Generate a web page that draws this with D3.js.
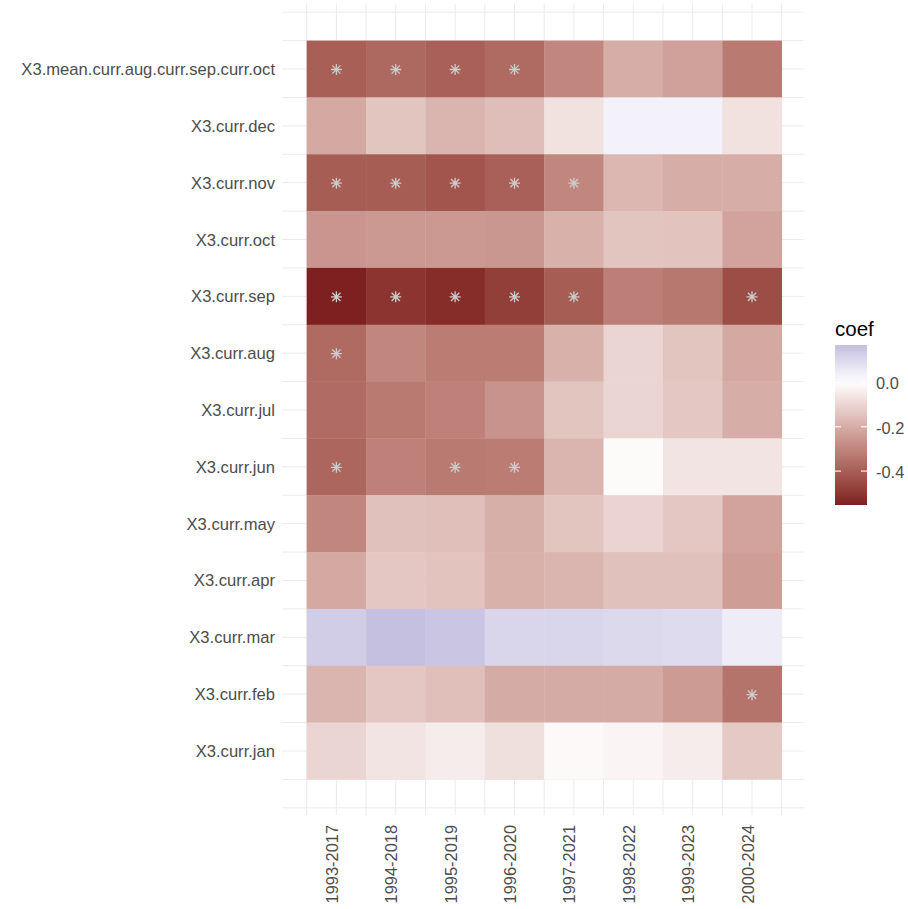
<!DOCTYPE html>
<html>
<head>
<meta charset="utf-8">
<script src="https://cdn.jsdelivr.net/npm/d3@7"></script>
<style>
  html, body { margin: 0; padding: 0; background: #ffffff; }
  svg { display: block; font-family: "Liberation Sans", Arial, sans-serif; }
</style>
</head>
<body>
<svg id="chart" width="908" height="909"></svg>
<script>
// ---------------- data ----------------
const periods = ["1993-2017","1994-2018","1995-2019","1996-2020","1997-2021","1998-2022","1999-2023","2000-2024"];
const predictors = ["X3.mean.curr.aug.curr.sep.curr.oct","X3.curr.dec","X3.curr.nov","X3.curr.oct","X3.curr.sep","X3.curr.aug","X3.curr.jul","X3.curr.jun","X3.curr.may","X3.curr.apr","X3.curr.mar","X3.curr.feb","X3.curr.jan"];

const coefMeanAugSepOct = [-0.400,-0.375,-0.395,-0.370,-0.295,-0.200,-0.230,-0.330];
const coefDec = [-0.210,-0.140,-0.180,-0.160,-0.070, 0.035, 0.035,-0.070];
const coefNov = [-0.405,-0.405,-0.425,-0.395,-0.295,-0.175,-0.200,-0.200];
const coefOct = [-0.260,-0.250,-0.250,-0.255,-0.190,-0.140,-0.145,-0.225];
const coefSep = [-0.553,-0.505,-0.525,-0.480,-0.405,-0.315,-0.335,-0.445];
const coefAug = [-0.370,-0.295,-0.325,-0.325,-0.190,-0.100,-0.140,-0.210];
const coefJul = [-0.365,-0.330,-0.310,-0.265,-0.140,-0.100,-0.135,-0.200];
const coefJun = [-0.380,-0.310,-0.330,-0.325,-0.180,-0.010,-0.065,-0.065];
const coefMay = [-0.295,-0.150,-0.155,-0.195,-0.140,-0.105,-0.135,-0.225];
const coefApr = [-0.210,-0.135,-0.145,-0.190,-0.180,-0.150,-0.150,-0.240];
const coefMar = [ 0.130, 0.169, 0.153, 0.110, 0.110, 0.100, 0.094, 0.050];
const coefFeb = [-0.180,-0.135,-0.155,-0.205,-0.205,-0.205,-0.245,-0.345];
const coefJan = [-0.100,-0.065,-0.045,-0.075,-0.015,-0.025,-0.045,-0.130];

const sigMeanAugSepOct = [1,1,1,1,0,0,0,0];
const sigDec = [0,0,0,0,0,0,0,0];
const sigNov = [1,1,1,1,1,0,0,0];
const sigOct = [0,0,0,0,0,0,0,0];
const sigSep = [1,1,1,1,1,0,0,1];
const sigAug = [1,0,0,0,0,0,0,0];
const sigJul = [0,0,0,0,0,0,0,0];
const sigJun = [1,0,1,1,0,0,0,0];
const sigMay = [0,0,0,0,0,0,0,0];
const sigApr = [0,0,0,0,0,0,0,0];
const sigMar = [0,0,0,0,0,0,0,0];
const sigFeb = [0,0,0,0,0,0,0,1];
const sigJan = [0,0,0,0,0,0,0,0];

const legendTicks = [0.0, -0.2, -0.4];
const legendTickLabels = ["0.0", "-0.2", "-0.4"];
const coefLimits = [-0.553, 0.169];

const coefRows = [coefMeanAugSepOct, coefDec, coefNov, coefOct, coefSep, coefAug, coefJul, coefJun, coefMay, coefApr, coefMar, coefFeb, coefJan];
const sigRows = [sigMeanAugSepOct, sigDec, sigNov, sigOct, sigSep, sigAug, sigJul, sigJun, sigMay, sigApr, sigMar, sigFeb, sigJan];

const cells = [];
predictors.forEach((p, i) => periods.forEach((per, j) => {
  cells.push({ predictor: p, period: per, coef: coefRows[i][j], sig: sigRows[i][j] });
}));

// ---------------- layout ----------------
const svg = d3.select("#chart");
const panel = { left: 282, right: 803.5, top: 3.5, bottom: 815 };

const x = d3.scaleBand().domain(periods).range([306.7, 781.7]).padding(0);
const y = d3.scaleBand().domain(predictors).range([40.6, 779.4]).padding(0);

const color = d3.scaleLinear()
  .domain([coefLimits[0], 0, coefLimits[1]])
  .range(["#7f2020", "#ffffff", "#c5bfe0"])
  .interpolate(d3.interpolateLab)
  .clamp(true);

const grid = svg.append("g").attr("stroke", "#ebebeb").attr("stroke-width", 1).attr("fill", "none");

// horizontal grid: row centres and row boundaries (plus half-row beyond)
const bw = y.bandwidth();
const hLines = [];
predictors.forEach(p => { hLines.push(y(p) + bw / 2); hLines.push(y(p)); });
hLines.push(y(predictors[predictors.length - 1]) + bw);
hLines.push(y(predictors[0]) - bw / 2);
hLines.push(y(predictors[predictors.length - 1]) + bw * 1.5);
grid.selectAll("line.h").data(hLines).join("line")
  .attr("x1", panel.left).attr("x2", panel.right)
  .attr("y1", d => d).attr("y2", d => d);

// vertical grid: column centres and boundaries
const cw = x.bandwidth();
const vLines = [];
periods.forEach(p => { vLines.push(x(p) + cw / 2); vLines.push(x(p)); });
vLines.push(x(periods[periods.length - 1]) + cw);
grid.selectAll("line.v").data(vLines).join("line")
  .attr("y1", panel.top).attr("y2", panel.bottom)
  .attr("x1", d => d).attr("x2", d => d);

// tiles
svg.append("g").selectAll("rect").data(cells).join("rect")
  .attr("x", d => x(d.period))
  .attr("y", d => y(d.predictor))
  .attr("width", cw + 0.3)
  .attr("height", bw + 0.3)
  .attr("fill", d => color(d.coef));

// significance asterisks
const s = 5.5;
const k = 0.75;
const starPath = `M0,${-s}L0,${s}M${-s},0L${s},0M${-s*k},${-s*k}L${s*k},${s*k}M${-s*k},${s*k}L${s*k},${-s*k}`;
svg.append("g").selectAll("path").data(cells.filter(d => d.sig)).join("path")
  .attr("transform", d => `translate(${x(d.period) + cw / 2},${y(d.predictor) + bw / 2 + 0.5})`)
  .attr("d", starPath)
  .attr("stroke", "#cccccc")
  .attr("stroke-width", 1.3)
  .attr("fill", "none");

// y axis labels
svg.append("g").selectAll("text").data(predictors).join("text")
  .attr("x", 275)
  .attr("y", d => y(d) + bw / 2 + 6)
  .attr("text-anchor", "end")
  .attr("font-size", 16.6)
  .attr("fill", "#4d4d4d")
  .text(d => d);

// x axis labels (rotated)
svg.append("g").selectAll("text").data(periods).join("text")
  .attr("transform", d => `translate(${x(d) + cw / 2 + 1.5},825) rotate(-90)`)
  .attr("text-anchor", "end")
  .attr("font-size", 16.4)
  .attr("fill", "#4d4d4d")
  .text(d => d);

// ---------------- legend ----------------
const legTop = 345, legBottom = 505, legLeft = 835, legRight = 867;
const ly = d3.scaleLinear().domain(coefLimits).range([legBottom, legTop]);

const defs = svg.append("defs");
const grad = defs.append("linearGradient").attr("id", "coefGrad")
  .attr("x1", 0).attr("y1", 1).attr("x2", 0).attr("y2", 0);
d3.range(0, 1.0001, 0.05).forEach(t => {
  const v = coefLimits[0] + t * (coefLimits[1] - coefLimits[0]);
  grad.append("stop").attr("offset", t).attr("stop-color", color(v));
});
svg.append("rect")
  .attr("x", legLeft).attr("y", legTop)
  .attr("width", legRight - legLeft).attr("height", legBottom - legTop)
  .attr("fill", "url(#coefGrad)");

const lt = svg.append("g").attr("stroke", "#ffffff").attr("stroke-width", 1.1);
lt.selectAll("line.l").data(legendTicks).join("line")
  .attr("x1", legLeft).attr("x2", legLeft + 6)
  .attr("y1", d => ly(d)).attr("y2", d => ly(d));
lt.selectAll("line.r").data(legendTicks).join("line")
  .attr("x1", legRight - 6).attr("x2", legRight)
  .attr("y1", d => ly(d)).attr("y2", d => ly(d));

svg.append("g").selectAll("text").data(legendTicks).join("text")
  .attr("x", 876)
  .attr("y", d => ly(d) + 7)
  .attr("font-size", 16.4)
  .attr("fill", "#4d4d4d")
  .text((d, i) => legendTickLabels[i]);

svg.append("text")
  .attr("x", 835).attr("y", 336)
  .attr("font-size", 20.5)
  .attr("fill", "#000000")
  .text("coef");
</script>
</body>
</html>
